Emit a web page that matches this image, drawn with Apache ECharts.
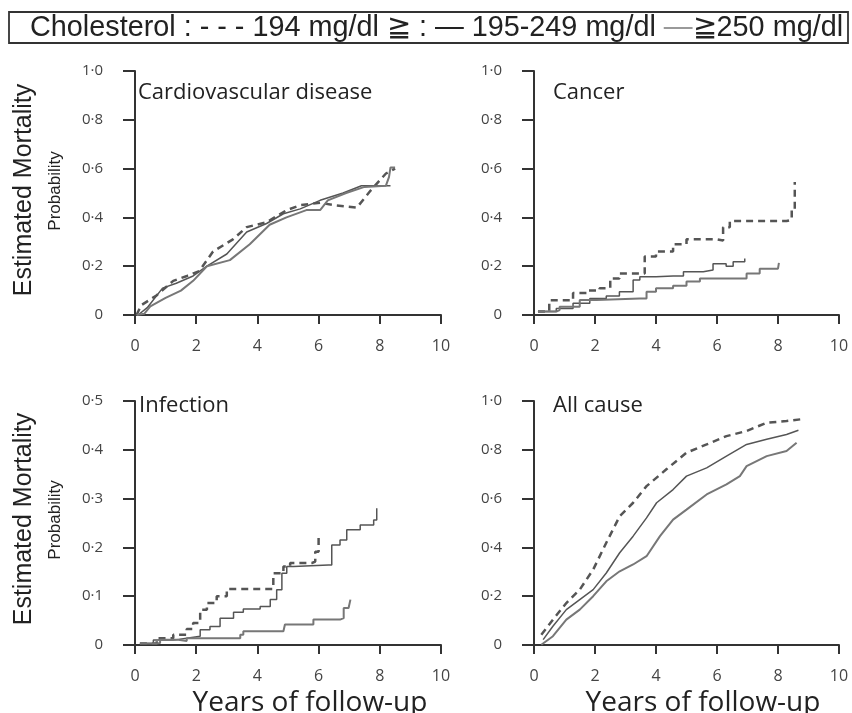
<!DOCTYPE html>
<html>
<head>
<meta charset="utf-8">
<script src="https://cdn.jsdelivr.net/npm/echarts@6/dist/echarts.min.js"></script>
<style>
  html, body { margin: 0; padding: 0; background: #fff; }
  #chart { width: 852px; height: 713px; }
</style>
</head>
<body>
<div id="chart"></div>
<script>
// [years, probability]
const panelNames = ['Cardiovascular disease', 'Cancer', 'Infection', 'All cause'];
const groupNames = ['194 mg/dl ≧', '195-249 mg/dl', '≧250 mg/dl'];
const xTicks = [0, 2, 4, 6, 8, 10];

const cvdLow = [[0.05,0],[0.2,0.04],[0.7,0.08],[1.25,0.14],[1.7,0.16],[2.1,0.18],[2.55,0.26],[3.2,0.31],[3.65,0.36],[4.3,0.38],[4.96,0.43],[5.4,0.45],[6.05,0.46],[6.5,0.45],[7.25,0.44],[7.7,0.51],[8.2,0.58],[8.5,0.6]];
const cvdMid = [[0.1,0],[0.4,0.03],[0.9,0.11],[1.35,0.13],[1.9,0.16],[2.35,0.2],[3.0,0.25],[3.65,0.34],[4.3,0.375],[4.85,0.415],[5.4,0.435],[6.05,0.47],[6.8,0.5],[7.4,0.53],[8.35,0.53]];
const cvdHigh = [[0.05,0],[0.3,0.005],[0.5,0.035],[1.0,0.07],[1.5,0.1],[1.9,0.14],[2.35,0.2],[3.1,0.225],[3.75,0.29],[4.4,0.37],[4.95,0.4],[5.6,0.43],[6.05,0.43],[6.3,0.47],[6.9,0.5],[7.5,0.525],[8.2,0.53],[8.3,0.565],[8.35,0.605],[8.5,0.605]];

const cancerLow = [[0.13,0.014],[0.5,0.06],[1.28,0.09],[1.72,0.1],[2.15,0.11],[2.5,0.15],[2.8,0.17],[3.47,0.17],[3.63,0.24],[4.0,0.26],[4.56,0.29],[5.0,0.31],[5.55,0.31],[6.0,0.305],[6.2,0.36],[6.42,0.385],[8.28,0.39],[8.45,0.43],[8.55,0.545]];
const cancerMid = [[0.13,0.014],[0.73,0.027],[1.28,0.048],[1.83,0.068],[2.37,0.078],[2.8,0.095],[3.25,0.143],[3.47,0.157],[4.0,0.16],[4.56,0.16],[4.9,0.177],[5.55,0.184],[5.87,0.21],[6.3,0.2],[6.53,0.218],[6.91,0.232]];
const cancerHigh = [[0.13,0.014],[0.73,0.02],[0.84,0.034],[1.5,0.061],[2.05,0.068],[3.47,0.068],[3.69,0.095],[4.0,0.11],[4.56,0.12],[5.0,0.137],[5.44,0.15],[6.75,0.15],[6.97,0.17],[7.4,0.19],[8.0,0.198],[8.03,0.214]];

const infLow = [[0.16,0.003],[0.71,0.014],[1.25,0.021],[1.69,0.033],[1.9,0.045],[2.13,0.072],[2.35,0.086],[2.67,0.1],[3.0,0.115],[4.31,0.115],[4.52,0.147],[4.85,0.161],[5.07,0.168],[5.78,0.171],[5.89,0.191],[6.0,0.225]];
const infMid = [[0.16,0.003],[0.6,0.01],[1.25,0.014],[1.69,0.018],[2.13,0.031],[2.45,0.038],[2.78,0.055],[3.22,0.067],[3.54,0.074],[4.09,0.079],[4.42,0.093],[4.63,0.113],[4.8,0.147],[4.96,0.161],[5.18,0.164],[6.32,0.164],[6.43,0.205],[6.7,0.215],[6.92,0.236],[7.36,0.246],[7.8,0.256],[7.9,0.28]];
const infHigh = [[0.16,0.003],[0.71,0.004],[0.82,0.011],[1.36,0.008],[1.69,0.014],[3.11,0.014],[3.44,0.021],[3.54,0.028],[4.85,0.028],[4.9,0.042],[5.73,0.042],[5.83,0.052],[6.7,0.055],[6.82,0.076],[6.98,0.079],[7.04,0.093]];

const allLow = [[0.24,0.042],[0.62,0.104],[1.06,0.172],[1.5,0.227],[1.94,0.309],[2.37,0.419],[2.81,0.528],[3.25,0.583],[3.69,0.651],[4.34,0.72],[5.0,0.788],[5.66,0.822],[6.31,0.856],[6.97,0.877],[7.63,0.911],[8.28,0.918],[8.88,0.927]];
const allMid = [[0.3,0.022],[0.62,0.077],[1.06,0.145],[1.5,0.186],[1.94,0.227],[2.37,0.295],[2.81,0.378],[3.25,0.446],[3.69,0.521],[4.02,0.583],[4.56,0.637],[5.0,0.692],[5.66,0.726],[6.31,0.774],[6.97,0.822],[7.63,0.843],[8.28,0.863],[8.67,0.88]];
const allHigh = [[0.24,0.001],[0.62,0.036],[1.06,0.104],[1.5,0.145],[1.94,0.2],[2.37,0.261],[2.81,0.302],[3.25,0.33],[3.69,0.364],[4.13,0.446],[4.56,0.514],[5.0,0.555],[5.66,0.617],[6.31,0.658],[6.75,0.692],[6.97,0.733],[7.63,0.774],[8.28,0.795],[8.61,0.829]];

const panelData = [
  [cvdLow, cvdMid, cvdHigh],
  [cancerLow, cancerMid, cancerHigh],
  [infLow, infMid, infHigh],
  [allLow, allMid, allHigh]
];
const yMax = [1, 1, 0.5, 1];
const yStep = [0.2, 0.2, 0.1, 0.2];
const stepped = [false, true, true, false];

const chart = echarts.init(document.getElementById('chart'));

const grids = [
  { left: 135, top: 71, width: 306, height: 244 },
  { left: 534, top: 71, width: 305, height: 244 },
  { left: 135, top: 401, width: 306, height: 244 },
  { left: 534, top: 401, width: 305, height: 244 }
];

const axisColor = '#333';
const tickFont = 'Open Sans';

function yLabel(v) {
  if (v === 0) return '0';
  return v.toFixed(1).replace('.', '·');
}

const xAxes = [], yAxes = [], series = [];
const lineStyles = [
  { color: '#555', width: 2.5, type: [7, 5] },
  { color: '#555', width: 1.5, type: 'solid' },
  { color: '#777', width: 2, type: 'solid' }
];

for (let i = 0; i < 4; i++) {
  xAxes.push({
    gridIndex: i, type: 'value', min: 0, max: 10, interval: 2, offset: 6,
    axisLine: { show: true, lineStyle: { color: axisColor, width: 2 } },
    axisTick: { show: true, length: 9, lineStyle: { color: axisColor, width: 2 } },
    axisLabel: { color: '#444', fontSize: 16, fontFamily: tickFont, margin: 17 },
    splitLine: { show: false }
  });
  yAxes.push({
    gridIndex: i, type: 'value', min: 0, max: yMax[i], interval: yStep[i], offset: 8,
    axisLine: { show: true, lineStyle: { color: axisColor, width: 2 } },
    axisTick: { show: true, length: 12, lineStyle: { color: axisColor, width: 2 } },
    axisLabel: { color: '#444', fontSize: 15, fontFamily: tickFont, margin: 24, formatter: yLabel },
    splitLine: { show: false }
  });
  panelData[i].forEach((d, k) => {
    series.push({
      name: groupNames[k],
      type: 'line',
      xAxisIndex: i, yAxisIndex: i,
      data: d,
      step: stepped[i] ? 'end' : false,
      showSymbol: false,
      silent: true,
      lineStyle: lineStyles[k]
    });
  });
}

// legend strip: size the text so it runs from x=30 to x=843 like the original
const legendFont = 'Liberation Sans';
const legendText = 'Cholesterol : - - - 194 mg/dl ≧ : — 195-249 mg/dl —≧250 mg/dl';
const ctx = document.createElement('canvas').getContext('2d');
ctx.font = '24px "' + legendFont + '"';
const legendSize = Math.round(24 * 813 / ctx.measureText(legendText).width * 10) / 10;

const titleFont = 'Open Sans';
const graphic = [
  { type: 'rect', shape: { x: 9, y: 12, width: 839, height: 31 },
    style: { fill: '#fff', stroke: '#333', lineWidth: 1.8 } },
  { type: 'text', x: 30, y: 28,
    style: {
      text: '{a|Cholesterol : - - - 194 mg/dl ≧ : — 195-249 mg/dl }{g|—}{a|≧250 mg/dl}',
      verticalAlign: 'middle',
      rich: {
        a: { fontSize: legendSize, fontFamily: legendFont, fill: '#222' },
        g: { fontSize: legendSize, fontFamily: legendFont, fill: '#999' }
      }
    } },
  // panel titles
  { type: 'text', x: 138, y: 93, style: { text: panelNames[0], fontSize: 22, fontFamily: titleFont, fill: '#222', verticalAlign: 'middle' } },
  { type: 'text', x: 553, y: 93, style: { text: panelNames[1], fontSize: 22, fontFamily: titleFont, fill: '#222', verticalAlign: 'middle' } },
  { type: 'text', x: 139, y: 406, style: { text: panelNames[2], fontSize: 22, fontFamily: titleFont, fill: '#222', verticalAlign: 'middle' } },
  { type: 'text', x: 553, y: 406, style: { text: panelNames[3], fontSize: 22, fontFamily: titleFont, fill: '#222', verticalAlign: 'middle' } }
];

// y titles
[190, 519].forEach(cy => {
  graphic.push({ type: 'text', x: 24, y: cy, rotation: Math.PI / 2,
    style: { text: 'Estimated Mortality', fontSize: 25, fontFamily: 'Liberation Sans', fill: '#222', align: 'center', verticalAlign: 'middle' } });
  graphic.push({ type: 'text', x: 55, y: cy + 1, rotation: Math.PI / 2,
    style: { text: 'Probability', fontSize: 17, fontFamily: 'Liberation Sans', fill: '#222', align: 'center', verticalAlign: 'middle' } });
});
// x titles
[310, 703].forEach(cx => {
  graphic.push({ type: 'text', x: cx, y: 703,
    style: { text: 'Years of follow-up', fontSize: 28, fontFamily: 'Open Sans', fill: '#222', align: 'center', verticalAlign: 'middle' } });
});

chart.setOption({
  animation: false,
  backgroundColor: '#fff',
  grid: grids,
  xAxis: xAxes,
  yAxis: yAxes,
  series: series,
  graphic: graphic
});
</script>
</body>
</html>
